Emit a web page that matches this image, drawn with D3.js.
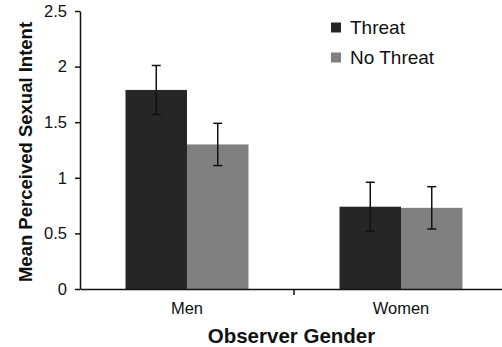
<html>
  <head>
    <script src="https://d3js.org/d3.v7.min.js"></script>
    <style>
      body { margin: 0; background: #fff; }
      text { font-family: "Liberation Sans", Arial, sans-serif; fill: #111; }
    </style>
  </head>
  <body>
    <svg id="chart" width="502" height="347"></svg>
    <script>
      const groups = ["Men", "Women"];
      const series = ["Threat", "No Threat"];
      const threat = [1.79, 0.74];
      const threatErr = [0.22, 0.22];
      const noThreat = [1.30, 0.73];
      const noThreatErr = [0.19, 0.19];
      const yTicks = [0, 0.5, 1, 1.5, 2, 2.5];
      const yTickLabels = ["0", "0.5", "1", "1.5", "2", "2.5"];
      const colors = ["#262626", "#808080"];

      const data = groups.map((g, i) => ({
        group: g,
        values: [
          { key: series[0], value: threat[i], err: threatErr[i] },
          { key: series[1], value: noThreat[i], err: noThreatErr[i] },
        ],
      }));

      const svg = d3.select("#chart");

      const x = d3.scaleBand().domain(groups).range([80, 508]);
      const x1 = d3
        .scaleBand()
        .domain(series)
        .range([0, x.bandwidth()])
        .paddingOuter(0.74);
      const y = d3.scaleLinear().domain([0, 2.5]).range([289, 11]);
      const color = d3.scaleOrdinal().domain(series).range(colors);

      // bars
      const g = svg
        .append("g")
        .selectAll("g")
        .data(data)
        .join("g")
        .attr("transform", (d) => `translate(${x(d.group)},0)`);

      g.selectAll("rect")
        .data((d) => d.values)
        .join("rect")
        .attr("x", (d) => x1(d.key))
        .attr("y", (d) => y(d.value))
        .attr("width", x1.bandwidth())
        .attr("height", (d) => y(0) - y(d.value))
        .attr("fill", (d) => color(d.key));

      // error bars
      const eb = g
        .selectAll("g.err")
        .data((d) => d.values)
        .join("g")
        .attr("class", "err")
        .attr("stroke", "#111")
        .attr("stroke-width", 1.5);
      const cx = (d) => x1(d.key) + x1.bandwidth() / 2;
      eb.append("line")
        .attr("x1", cx)
        .attr("x2", cx)
        .attr("y1", (d) => y(d.value + d.err))
        .attr("y2", (d) => y(d.value - d.err));
      eb.append("line")
        .attr("x1", (d) => cx(d) - 4.5)
        .attr("x2", (d) => cx(d) + 4.5)
        .attr("y1", (d) => y(d.value + d.err))
        .attr("y2", (d) => y(d.value + d.err));
      eb.append("line")
        .attr("x1", (d) => cx(d) - 4.5)
        .attr("x2", (d) => cx(d) + 4.5)
        .attr("y1", (d) => y(d.value - d.err))
        .attr("y2", (d) => y(d.value - d.err));

      // y axis
      const yAxis = svg
        .append("g")
        .attr("transform", "translate(80,0)")
        .call(
          d3
            .axisLeft(y)
            .tickValues(yTicks)
            .tickFormat((d, i) => yTickLabels[i])
            .tickSize(5)
            .tickSizeOuter(0)
            .tickPadding(8)
        );
      yAxis.selectAll("path, line").attr("stroke", "#111").attr("stroke-width", 1.5);
      yAxis
        .selectAll("text")
        .attr("font-size", 16.5)
        .attr("font-family", null)
        .attr("fill", "#111");

      // x axis
      const xAxis = svg
        .append("g")
        .attr("transform", `translate(0,${y(0)})`)
        .call(d3.axisBottom(x).tickSize(0).tickSizeOuter(0).tickPadding(13));
      xAxis.select("path").attr("stroke", "#111").attr("stroke-width", 1.5);
      xAxis
        .selectAll("text")
        .attr("font-size", 16.5)
        .attr("font-family", null)
        .attr("fill", "#111");
      xAxis
        .selectAll("line.sep")
        .data(groups.slice(1))
        .join("line")
        .attr("class", "sep")
        .attr("x1", (d) => x(d))
        .attr("x2", (d) => x(d))
        .attr("y1", 0)
        .attr("y2", 6)
        .attr("stroke", "#111")
        .attr("stroke-width", 1.5);

      // axis titles
      svg
        .append("text")
        .attr("x", 291.5)
        .attr("y", 343)
        .attr("text-anchor", "middle")
        .attr("font-size", 20.5)
        .attr("font-weight", "bold")
        .text("Observer Gender");
      svg
        .append("text")
        .attr("transform", "translate(32,152) rotate(-90)")
        .attr("text-anchor", "middle")
        .attr("font-size", 18.5)
        .attr("font-weight", "bold")
        .text("Mean Perceived Sexual Intent");

      // legend
      const legend = svg
        .append("g")
        .selectAll("g")
        .data(series)
        .join("g")
        .attr("transform", (d, i) => `translate(331,${22.5 + i * 30})`);
      legend
        .append("rect")
        .attr("width", 10)
        .attr("height", 10)
        .attr("fill", (d) => color(d));
      legend
        .append("text")
        .attr("x", 19)
        .attr("y", 11.5)
        .attr("font-size", 19)
        .text((d) => d);
    </script>
  </body>
</html>
